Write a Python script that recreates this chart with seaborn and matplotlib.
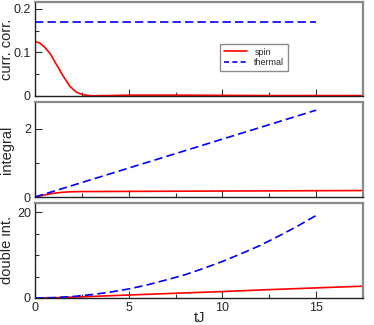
import numpy as np
import pandas as pd
import matplotlib
matplotlib.use("Agg")
import matplotlib.pyplot as plt
from matplotlib.ticker import MultipleLocator
import seaborn as sns

# spin / thermal current correlations
t_spin_corr = [0, 0.25, 0.5, 0.8, 1.15, 1.5, 1.85, 2.2, 2.55, 3.0, 4, 5, 7.5, 10, 12.5, 15, 17.5]
spin_corr = [0.125, 0.122, 0.113, 0.098, 0.072, 0.046, 0.023, 0.009, 0.003, 0.0005,
             0.001, 0.002, 0.002, 0.0015, 0.001, 0.001, 0.001]
t_thermal_corr = [0, 15]
thermal_corr = [0.17, 0.17]

t_spin_int = [0, 0.5, 1, 1.5, 2, 2.5, 3, 5, 10, 15, 17.5]
spin_int = [0, 0.06, 0.11, 0.14, 0.155, 0.16, 0.16, 0.165, 0.175, 0.185, 0.19]
t_thermal_int = [0, 5, 10, 15]
thermal_int = [0, 0.85, 1.7, 2.55]

t_spin_dbl = [0, 1, 2, 3, 5, 7.5, 10, 12.5, 15, 17.5]
spin_dbl = [0, 0.05, 0.2, 0.36, 0.7, 1.1, 1.5, 1.95, 2.35, 2.75]
t_thermal_dbl = list(range(16))
thermal_dbl = [0, 0.09, 0.34, 0.77, 1.36, 2.1, 3.06, 4.2, 5.4, 6.9, 8.5, 10.3, 12.2, 14.4, 16.7, 19.2]

sns.set_style("white")
plt.rcParams['font.family'] = ['Liberation Sans', 'DejaVu Sans']

fig = plt.figure(figsize=(3.74, 3.25), dpi=100)
L, W = 35 / 374, 328 / 374
ax1 = fig.add_axes([L, 1 - 96 / 325, W, 94 / 325])
ax2 = fig.add_axes([L, 1 - 197 / 325, W, 95 / 325])
ax3 = fig.add_axes([L, 1 - 298 / 325, W, 95 / 325])

red, blue = "#ff0000", "#0000ff"
dash = (5, 2.5)


def draw(ax, ts, ys, tt, yt, label=True):
    sns.lineplot(x=ts, y=ys, ax=ax, color=red, lw=1.2, label="spin" if label else None)
    sns.lineplot(x=tt, y=yt, ax=ax, color=blue, lw=1.2, label="thermal" if label else None)
    ax.lines[-1].set_dashes(dash)


draw(ax1, t_spin_corr, spin_corr, t_thermal_corr, thermal_corr)
draw(ax2, t_spin_int, spin_int, t_thermal_int, thermal_int, label=False)
draw(ax3, t_spin_dbl, spin_dbl, t_thermal_dbl, thermal_dbl, label=False)

ax1.set_ylim(0, 0.216)
ax1.yaxis.set_minor_locator(MultipleLocator(0.05))
ax1.set_yticks([0, 0.1, 0.2])
ax1.set_yticklabels(["0", "0.1", "0.2"])
ax2.set_ylim(0, 2.79)
ax2.yaxis.set_major_locator(MultipleLocator(2))
ax2.yaxis.set_minor_locator(MultipleLocator(1))
ax3.set_ylim(0, 22.1)
ax3.yaxis.set_major_locator(MultipleLocator(20))
ax3.yaxis.set_minor_locator(MultipleLocator(5))

ax1.set_ylabel("curr. corr.", fontsize=10.5)
ax2.set_ylabel("integral", fontsize=10.5)
ax3.set_ylabel("double int.", fontsize=10.5)
ax3.set_xlabel("tJ", fontsize=10.5, labelpad=-2.5)
for ax in (ax1, ax2, ax3):
    ax.yaxis.set_label_coords(-0.064, 0.5)

for ax in (ax1, ax2, ax3):
    ax.set_xlim(0, 17.5)
    ax.xaxis.set_major_locator(MultipleLocator(5))
    ax.xaxis.set_minor_locator(MultipleLocator(2.5))
    ax.tick_params(which="both", direction="in", left=True, bottom=True,
                   top=False, right=False, labelsize=9, pad=3, color="#333333")
    ax.tick_params(which="major", length=5, width=0.8)
    ax.tick_params(which="minor", length=3, width=0.8)
    for s in ("left", "bottom"):
        ax.spines[s].set_color("#222222")
        ax.spines[s].set_linewidth(1.0)
    for s in ("top", "right"):
        ax.spines[s].set_color("#8a8a8a")
        ax.spines[s].set_linewidth(1.6)
    if ax is not ax3:
        ax.tick_params(labelbottom=False)

leg = ax1.legend(loc="upper left", bbox_to_anchor=(0.564, 0.553), fontsize=6.5,
                 frameon=True, fancybox=False, handlelength=2.6, borderpad=0.4,
                 labelspacing=0.2, handletextpad=0.8, borderaxespad=0)
leg.get_frame().set_edgecolor("#707070")
leg.get_frame().set_linewidth(1.0)
leg.get_lines()[1].set_dashes((3, 2))

fig.savefig("out.png", dpi=100)
